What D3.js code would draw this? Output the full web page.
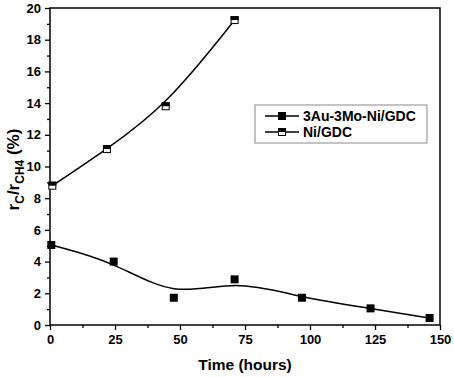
<!DOCTYPE html>
<html>
<head>
<meta charset="utf-8">
<script src="https://cdn.jsdelivr.net/npm/d3@7"></script>
<style>
  body { margin: 0; background: #fff; }
  text { font-family: Arial, "Liberation Sans", sans-serif; font-weight: bold; }
</style>
</head>
<body>
<div id="chart"></div>
<script>
// Datos
const auTime = [0.5, 24.5, 47.6, 71, 96.9, 123.3, 146];
const auValue = [5.05, 4.0, 1.72, 2.88, 1.72, 1.05, 0.44];
const niTime = [0.9, 21.9, 44.5, 71];
const niValue = [8.79, 11.1, 13.8, 19.24];
const xTicks = [0, 25, 50, 75, 100, 125, 150];
const yTicks = [0, 2, 4, 6, 8, 10, 12, 14, 16, 18, 20];
const legendLabels = ["3Au-3Mo-Ni/GDC", "Ni/GDC"];

const margin = { top: 8, right: 14, bottom: 52, left: 50 };
const width = 454 - margin.left - margin.right;
const height = 377 - margin.top - margin.bottom;

const svg = d3.select("#chart")
    .append("svg")
    .attr("width", 454)
    .attr("height", 377)
    .append("g")
    .attr("transform", `translate(${margin.left}, ${margin.top})`);

// Escalas
const x = d3.scaleLinear().domain([0, 150]).range([0, width]);
const y = d3.scaleLinear().domain([0, 20]).range([height, 0]);

// Ticks menores
svg.append("g")
    .attr("transform", `translate(0, ${height})`)
    .call(d3.axisBottom(x).tickValues(d3.range(12.5, 150, 25)).tickSize(3).tickFormat(""))
    .call(g => g.select(".domain").remove())
    .selectAll("line").attr("stroke-width", 1.3);

svg.append("g")
    .call(d3.axisLeft(y).tickValues(d3.range(1, 20, 2)).tickSize(3).tickFormat(""))
    .call(g => g.select(".domain").remove())
    .selectAll("line").attr("stroke-width", 1.3);

// Ejes
const xAxis = svg.append("g")
    .attr("transform", `translate(0, ${height})`)
    .call(d3.axisBottom(x).tickValues(xTicks).tickSize(5).tickPadding(5));
xAxis.select(".domain").remove();
xAxis.selectAll("line").attr("stroke-width", 1.3);
xAxis.selectAll("text").style("font-size", "13px").attr("fill", "#000");

const yAxis = svg.append("g")
    .call(d3.axisLeft(y).tickValues(yTicks).tickSize(5).tickPadding(4));
yAxis.select(".domain").remove();
yAxis.selectAll("line").attr("stroke-width", 1.3);
yAxis.selectAll("text").style("font-size", "13px").attr("fill", "#000");

// Marco
svg.append("rect")
    .attr("width", width)
    .attr("height", height)
    .attr("fill", "none")
    .attr("stroke", "#000")
    .attr("stroke-width", 1.5);

// Etiquetas de los ejes
svg.append("text")
    .attr("x", width / 2)
    .attr("y", height + 45)
    .attr("text-anchor", "middle")
    .style("font-size", "15.5px")
    .text("Time (hours)");

const yLabel = svg.append("text")
    .attr("transform", `translate(-31, ${height / 2 + 3}) rotate(-90)`)
    .attr("text-anchor", "middle")
    .style("font-size", "17px");
yLabel.append("tspan").text("r");
yLabel.append("tspan").attr("dy", 5).style("font-size", "12px").text("C");
yLabel.append("tspan").attr("dy", -5).text("/r");
yLabel.append("tspan").attr("dy", 5).style("font-size", "12px").text("CH4");
yLabel.append("tspan").attr("dy", -5).text(" (%)");

// Curvas suavizadas
const line = d3.line().curve(d3.curveBasis);

svg.append("path")
    .attr("fill", "none")
    .attr("stroke", "#000")
    .attr("stroke-width", 1.5)
    .attr("d", line(auTime.map((t, i) => [x(t), y(auValue[i])])));

svg.append("path")
    .attr("fill", "none")
    .attr("stroke", "#000")
    .attr("stroke-width", 1.5)
    .attr("d", line(niTime.map((t, i) => [x(t), y(niValue[i])])));

// Marcadores
const s = 8;
function filledSquare(g, cx, cy) {
    g.append("rect")
        .attr("x", cx - s / 2).attr("y", cy - s / 2)
        .attr("width", s).attr("height", s)
        .attr("fill", "#000");
}
function halfSquare(g, cx, cy) {
    g.append("rect")
        .attr("x", cx - s / 2 + 0.5).attr("y", cy - s / 2 + 0.5)
        .attr("width", s - 1).attr("height", s - 1)
        .attr("fill", "#fff").attr("stroke", "#000").attr("stroke-width", 1);
    g.append("rect")
        .attr("x", cx - s / 2).attr("y", cy - s / 2)
        .attr("width", s).attr("height", s / 2)
        .attr("fill", "#000");
}

auTime.forEach((t, i) => filledSquare(svg, x(t), y(auValue[i])));
niTime.forEach((t, i) => halfSquare(svg, x(t), y(niValue[i])));

// Leyenda
const legend = svg.append("g").attr("transform", "translate(205, 97)");
legend.append("rect")
    .attr("width", 172).attr("height", 38)
    .attr("fill", "#fff").attr("stroke", "#888").attr("stroke-width", 1);

legendLabels.forEach((label, i) => {
    const ly = 11 + i * 16;
    legend.append("line")
        .attr("x1", 10).attr("x2", 44)
        .attr("y1", ly).attr("y2", ly)
        .attr("stroke", "#000").attr("stroke-width", 1.5);
    if (i === 0) filledSquare(legend, 27, ly);
    else halfSquare(legend, 27, ly);
    legend.append("text")
        .attr("x", 48).attr("y", ly + 5)
        .style("font-size", "14px")
        .text(label);
});
</script>
</body>
</html>
